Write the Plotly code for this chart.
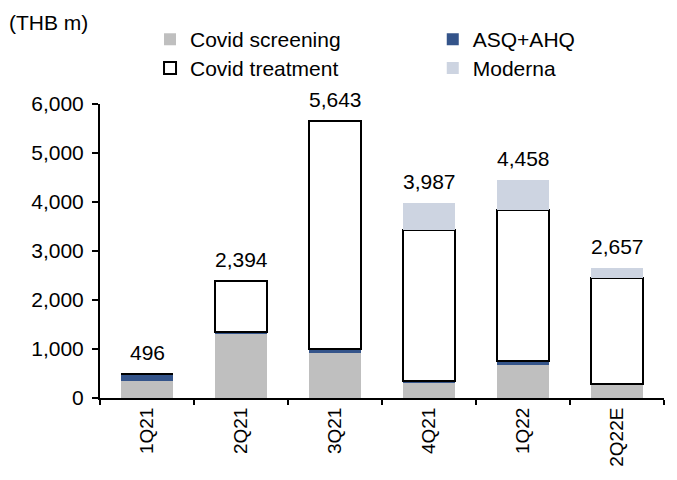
import plotly.graph_objects as go

categories = ["1Q21", "2Q21", "3Q21", "4Q21", "1Q22", "2Q22E"]
covid_screening = [345, 1297, 912, 318, 669, 284]
asq_ahq = [151, 55, 80, 33, 87, 0]
covid_treatment = [0, 1042, 4651, 3075, 3075, 2169]
moderna = [0, 0, 0, 561, 627, 204]
totals = [496, 2394, 5643, 3987, 4458, 2657]
total_labels = ["496", "2,394", "5,643", "3,987", "4,458", "2,657"]
y_ticks = [0, 1000, 2000, 3000, 4000, 5000, 6000]
y_tick_labels = ["0", "1,000", "2,000", "3,000", "4,000", "5,000", "6,000"]

FONT = "Liberation Sans, Arial, sans-serif"

fig = go.Figure()
fig.add_bar(x=categories, y=covid_screening, name="Covid screening",
            marker=dict(color="#BFBFBF", line=dict(width=0)), legend="legend")
fig.add_bar(x=categories, y=asq_ahq, name="ASQ+AHQ",
            marker=dict(color="#34548A", line=dict(width=0)), legend="legend2")
fig.add_bar(x=categories, y=covid_treatment, name="Covid treatment",
            marker=dict(color="white", line=dict(color="black", width=2)), legend="legend3")
fig.add_bar(x=categories, y=moderna, name="Moderna",
            marker=dict(color="#CDD4E1", line=dict(width=0)), legend="legend4")

for c, t, lab in zip(categories, totals, total_labels):
    fig.add_annotation(x=c, y=t, text=lab, showarrow=False, yanchor="bottom", yshift=8,
                       font=dict(size=21, color="black", family=FONT))

fig.add_annotation(xref="paper", yref="paper", x=-0.165, y=1.276, xanchor="left", yanchor="middle",
                   text="(THB m)", showarrow=False, font=dict(size=21, color="black", family=FONT))

legend_common = dict(orientation="h", xanchor="left", yanchor="middle",
                     font=dict(size=21, color="black", family=FONT), itemwidth=30,
                     bgcolor="rgba(0,0,0,0)")

fig.update_layout(
    width=677, height=480,
    margin=dict(l=92, r=21, t=96, b=90, autoexpand=False),
    barmode="stack", bargap=0.44,
    plot_bgcolor="white", paper_bgcolor="white",
    font=dict(family=FONT, size=20, color="black"),
    showlegend=True,
    legend=dict(x=0.0887, y=1.219, **legend_common),
    legend2=dict(x=0.590, y=1.219, **legend_common),
    legend3=dict(x=0.0887, y=1.121, **legend_common),
    legend4=dict(x=0.590, y=1.121, **legend_common),
    xaxis=dict(showline=True, linecolor="black", linewidth=2, ticks="outside", tickson="boundaries",
               ticklen=5, tickcolor="black", tickwidth=2, tickangle=-90,
               tickfont=dict(size=19, family=FONT), showgrid=False),
    yaxis=dict(range=[0, 6000], tickvals=y_ticks, ticktext=y_tick_labels, showline=True,
               linecolor="black", linewidth=2, ticks="outside", ticklen=6, tickcolor="black",
               tickwidth=2, showgrid=False, zeroline=False, ticklabelstandoff=4,
               tickfont=dict(size=21, family=FONT)),
)

fig.write_html("out.html")
